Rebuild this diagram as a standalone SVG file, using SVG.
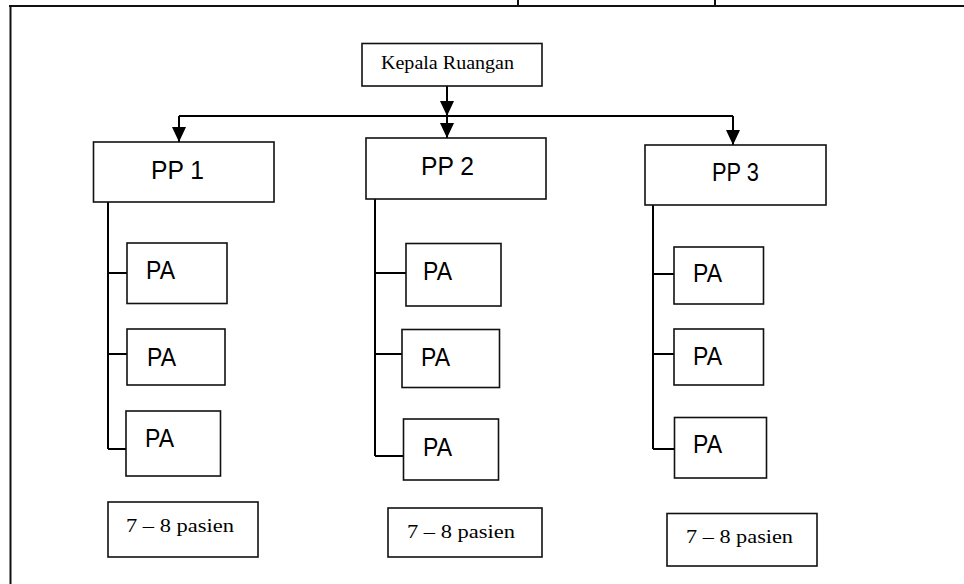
<svg xmlns="http://www.w3.org/2000/svg" width="964" height="584" viewBox="0 0 964 584">
  <style>
    .box { fill: #ffffff; stroke: #111111; stroke-width: 1.6; }
    .wire { fill: none; stroke: #000000; stroke-width: 2; }
    .frame { fill: none; stroke: #111111; stroke-width: 2; }
    .serif { font-family: "Liberation Serif", "Times New Roman", serif; font-size: 18px; fill: #000000; }
    .sans { font-family: "Liberation Sans", Arial, sans-serif; font-size: 26px; fill: #000000; }
  </style>
  <defs>
    <marker id="arrow" markerUnits="userSpaceOnUse" markerWidth="15" markerHeight="14" refX="15" refY="7" orient="auto">
      <path d="M0,0 L15,7 L0,14 Z" fill="#000000"/>
    </marker>
  </defs>

  <rect width="964" height="584" fill="#ffffff"/>

  <!-- page frame and cut-off marks above it -->
  <g id="frame">
    <path class="frame" d="M9,6 H964 M10.5,6 V584"/>
    <path class="frame" stroke-width="1.5" d="M518,0 V6 M715,0 V6"/>
  </g>

  <!-- connectors -->
  <g id="connectors">
    <path class="wire" d="M447,86 V116" marker-end="url(#arrow)"/>
    <path class="wire" d="M179,116 H733"/>
    <path class="wire" d="M179,116 V142" marker-end="url(#arrow)"/>
    <path class="wire" d="M447,116 V138" marker-end="url(#arrow)"/>
    <path class="wire" d="M733,116 V145" marker-end="url(#arrow)"/>

    <path class="wire" d="M108,202 V449 M108,273 H127 M108,354 H127 M108,449 H126"/>
    <path class="wire" d="M375,199 V456 M375,273 H406 M375,354 H402 M375,456 H405"/>
    <path class="wire" d="M653,205 V449 M653,274 H674 M653,354 H674 M653,449 H674"/>
  </g>

  <g id="kepala-ruangan">
    <rect class="box" x="362" y="43.5" width="180" height="42.5"/>
    <text class="serif" x="381" y="69" textLength="133" lengthAdjust="spacingAndGlyphs">Kepala Ruangan</text>
  </g>

  <g id="pp1">
    <rect class="box" x="93.5" y="142" width="180.5" height="60"/>
    <text class="sans" x="151" y="179" textLength="53" lengthAdjust="spacingAndGlyphs">PP 1</text>
  </g>
  <g id="pp2">
    <rect class="box" x="366" y="138" width="180" height="61"/>
    <text class="sans" x="421" y="175" textLength="53" lengthAdjust="spacingAndGlyphs">PP 2</text>
  </g>
  <g id="pp3">
    <rect class="box" x="645" y="145" width="181" height="60"/>
    <text class="sans" x="712" y="181" textLength="47" lengthAdjust="spacingAndGlyphs">PP 3</text>
  </g>

  <g id="pa-1a">
    <rect class="box" x="127" y="243" width="100" height="60.5"/>
    <text class="sans" x="146" y="279" textLength="29" lengthAdjust="spacingAndGlyphs">PA</text>
  </g>
  <g id="pa-1b">
    <rect class="box" x="127" y="329" width="98" height="56"/>
    <text class="sans" x="147" y="366" textLength="29" lengthAdjust="spacingAndGlyphs">PA</text>
  </g>
  <g id="pa-1c">
    <rect class="box" x="126" y="411" width="94.5" height="65"/>
    <text class="sans" x="145" y="447" textLength="29" lengthAdjust="spacingAndGlyphs">PA</text>
  </g>

  <g id="pa-2a">
    <rect class="box" x="406" y="243.5" width="95" height="62.5"/>
    <text class="sans" x="423" y="280" textLength="29" lengthAdjust="spacingAndGlyphs">PA</text>
  </g>
  <g id="pa-2b">
    <rect class="box" x="402" y="329.5" width="97.5" height="58"/>
    <text class="sans" x="421" y="366" textLength="29" lengthAdjust="spacingAndGlyphs">PA</text>
  </g>
  <g id="pa-2c">
    <rect class="box" x="403.5" y="419" width="95" height="61"/>
    <text class="sans" x="423" y="456" textLength="29" lengthAdjust="spacingAndGlyphs">PA</text>
  </g>

  <g id="pa-3a">
    <rect class="box" x="674" y="247" width="89.5" height="57"/>
    <text class="sans" x="693" y="282" textLength="29" lengthAdjust="spacingAndGlyphs">PA</text>
  </g>
  <g id="pa-3b">
    <rect class="box" x="674" y="329" width="89.5" height="56"/>
    <text class="sans" x="693" y="365" textLength="29" lengthAdjust="spacingAndGlyphs">PA</text>
  </g>
  <g id="pa-3c">
    <rect class="box" x="674.5" y="417.5" width="92" height="60.5"/>
    <text class="sans" x="693" y="453" textLength="29" lengthAdjust="spacingAndGlyphs">PA</text>
  </g>

  <g id="load-1">
    <rect class="box" x="108" y="502" width="150" height="55"/>
    <text class="serif" x="126" y="532" textLength="108" lengthAdjust="spacingAndGlyphs">7 – 8 pasien</text>
  </g>
  <g id="load-2">
    <rect class="box" x="388" y="508" width="154" height="49"/>
    <text class="serif" x="407" y="538" textLength="108" lengthAdjust="spacingAndGlyphs">7 – 8 pasien</text>
  </g>
  <g id="load-3">
    <rect class="box" x="667" y="513.5" width="150" height="52.5"/>
    <text class="serif" x="686" y="543" textLength="107" lengthAdjust="spacingAndGlyphs">7 – 8 pasien</text>
  </g>
</svg>
